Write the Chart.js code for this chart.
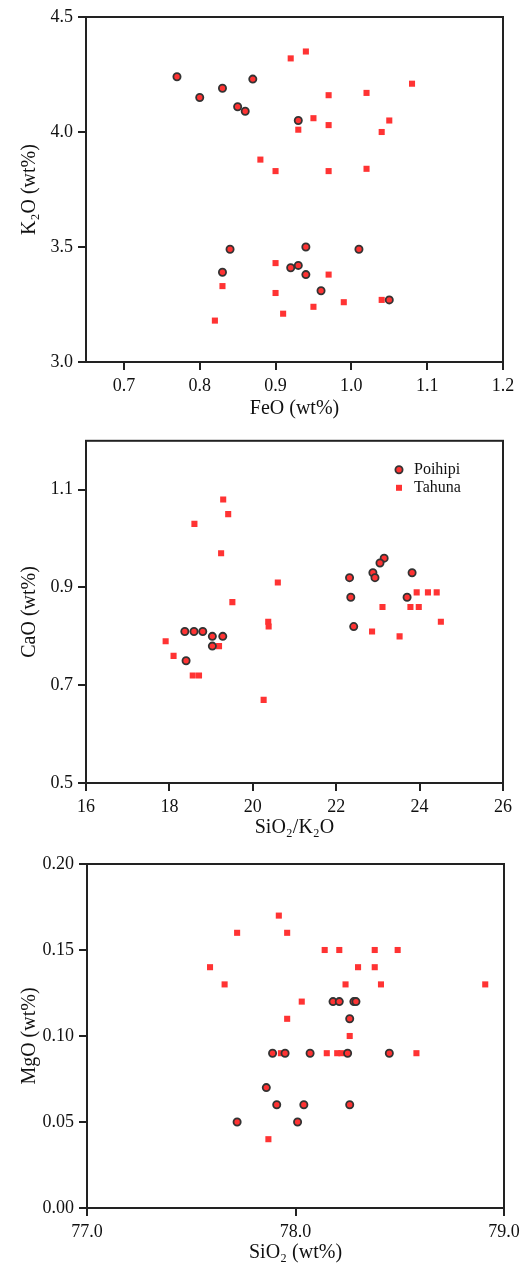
<!DOCTYPE html>
<html>
<head>
<meta charset="utf-8">
<script src="https://cdn.jsdelivr.net/npm/chart.js@4.4.0/dist/chart.umd.min.js"></script>
<style>
  body { margin: 0; background: #fff; }
  canvas { display: block; }
</style>
</head>
<body>
<canvas id="chart1" width="528" height="425"></canvas>
<canvas id="chart2" width="528" height="420"></canvas>
<canvas id="chart3" width="528" height="420"></canvas>
<script>
// panel 1: FeO vs K2O
const feoPoihipi = [0.77, 0.80, 0.83, 0.87, 0.85, 0.86, 0.93, 0.84, 0.94, 1.01, 0.83, 0.92, 0.93, 0.94, 0.96, 1.05];
const k2oPoihipi = [4.24, 4.15, 4.19, 4.23, 4.11, 4.09, 4.05, 3.49, 3.50, 3.49, 3.39, 3.41, 3.42, 3.38, 3.31, 3.27];
const feoTahuna = [0.94, 0.92, 1.08, 0.97, 1.02, 0.95, 0.97, 0.93, 1.05, 1.04, 0.88, 0.90, 0.97, 1.02, 0.90, 0.97, 0.83, 0.90, 0.95, 0.99, 1.04, 0.91, 0.82];
const k2oTahuna = [4.35, 4.32, 4.21, 4.16, 4.17, 4.06, 4.03, 4.01, 4.05, 4.00, 3.88, 3.83, 3.83, 3.84, 3.43, 3.38, 3.33, 3.30, 3.24, 3.26, 3.27, 3.21, 3.18];

// panel 2: SiO2/K2O vs CaO
const ratioPoihipi = [23.15, 23.05, 22.88, 22.93, 22.32, 23.82, 22.35, 23.70, 22.42, 18.37, 18.59, 18.80, 19.03, 19.28, 19.03, 18.40];
const caoPoihipi = [0.96, 0.95, 0.93, 0.92, 0.92, 0.93, 0.88, 0.88, 0.82, 0.81, 0.81, 0.81, 0.80, 0.80, 0.78, 0.75];
const ratioTahuna = [19.29, 19.41, 18.60, 19.24, 20.60, 19.51, 23.93, 24.20, 24.41, 23.11, 23.78, 23.98, 24.51, 20.37, 20.38, 22.86, 23.52, 17.91, 19.19, 18.10, 18.56, 18.71, 20.26];
const caoTahuna = [1.08, 1.05, 1.03, 0.97, 0.91, 0.87, 0.89, 0.89, 0.89, 0.86, 0.86, 0.86, 0.83, 0.83, 0.82, 0.81, 0.80, 0.79, 0.78, 0.76, 0.72, 0.72, 0.67];

// panel 3: SiO2 vs MgO
const sio2Poihipi = [78.18, 78.21, 78.28, 78.29, 78.26, 77.89, 77.95, 78.07, 78.25, 78.45, 77.86, 77.91, 78.04, 78.26, 77.72, 78.01];
const mgoPoihipi = [0.12, 0.12, 0.12, 0.12, 0.11, 0.09, 0.09, 0.09, 0.09, 0.09, 0.07, 0.06, 0.06, 0.06, 0.05, 0.05];
const sio2Tahuna = [77.92, 77.72, 77.96, 78.14, 78.21, 78.38, 78.49, 77.59, 78.30, 78.38, 77.66, 78.24, 78.41, 78.91, 78.03, 77.96, 78.26, 77.93, 78.15, 78.20, 78.22, 78.58, 77.87];
const mgoTahuna = [0.17, 0.16, 0.16, 0.15, 0.15, 0.15, 0.15, 0.14, 0.14, 0.14, 0.13, 0.13, 0.13, 0.13, 0.12, 0.11, 0.10, 0.09, 0.09, 0.09, 0.09, 0.09, 0.04];

// tick labels
const feoTicks = [0.7, 0.8, 0.9, 1.0, 1.1, 1.2];
const k2oTicks = [3.0, 3.5, 4.0, 4.5];
const ratioTicks = [16, 18, 20, 22, 24, 26];
const caoTicks = [0.5, 0.7, 0.9, 1.1];
const sio2Ticks = [77.0, 78.0, 79.0];
const mgoTicks = [0.00, 0.05, 0.10, 0.15, 0.20];

const seriesNames = ['Poihipi', 'Tahuna'];

Chart.defaults.font.family = "'Liberation Serif', 'DejaVu Serif', serif";
Chart.defaults.color = '#111';

const red = '#ff3333';

function toPoints(xs, ys) {
    return xs.map((x, i) => ({ x: x, y: ys[i] }));
}

function axis(title, min, max, ticks, decimals, size, titlePad, isX) {
    return {
        type: 'linear',
        min: min,
        max: max,
        afterBuildTicks: s => { s.ticks = ticks.map(v => ({ value: v })); },
        afterFit: s => { if (isX) s.height = size; else s.width = size; },
        grid: { drawOnChartArea: false, drawTicks: true, tickLength: 8, color: '#222', lineWidth: 2 },
        border: { display: true, color: '#222', width: 2 },
        ticks: { padding: 5, color: '#111', font: { size: 18 }, callback: v => v.toFixed(decimals) },
        title: {
            display: true, text: title, color: '#111', font: { size: 20 },
            padding: isX ? { top: 0, bottom: titlePad } : { top: titlePad, bottom: 0 }
        }
    };
}

// box around the plot
const frame = {
    id: 'frame',
    afterDraw(chart) {
        const { ctx, chartArea: a } = chart;
        ctx.save();
        ctx.strokeStyle = '#222';
        ctx.lineWidth = 2;
        ctx.strokeRect(a.left, a.top, a.right - a.left, a.bottom - a.top);
        ctx.restore();
    }
};

// legend drawn inside the plot (only panel 2)
const insideLegend = {
    id: 'insideLegend',
    afterDraw(chart, args, opts) {
        if (!opts.show) return;
        const { ctx, chartArea: a } = chart;
        ctx.save();
        chart.data.datasets.forEach((ds, i) => {
            const x = a.right - 104;
            const y = a.top + 29 + i * 18;
            ctx.beginPath();
            ctx.fillStyle = ds.backgroundColor;
            if (ds.pointStyle === 'circle') {
                ctx.arc(x, y, ds.pointRadius, 0, Math.PI * 2);
                ctx.fill();
                ctx.lineWidth = ds.borderWidth;
                ctx.strokeStyle = ds.borderColor;
                ctx.stroke();
            } else {
                ctx.fillRect(x - 3, y - 3, 6, 6);
            }
            ctx.fillStyle = '#111';
            ctx.font = "16px 'Liberation Serif', serif";
            ctx.textBaseline = 'middle';
            ctx.fillText(ds.label, x + 15, y);
        });
        ctx.restore();
    }
};

function datasets(xa, ya, xb, yb) {
    return [
        {
            label: seriesNames[0], data: toPoints(xa, ya), pointStyle: 'circle',
            pointRadius: 3.6, pointHoverRadius: 3.6, backgroundColor: red, borderColor: '#333', borderWidth: 1.8
        },
        {
            label: seriesNames[1], data: toPoints(xb, yb), pointStyle: 'rect',
            pointRadius: 4.3, pointHoverRadius: 4.3, backgroundColor: red, borderWidth: 0
        }
    ];
}

function makeChart(id, sets, xScale, yScale, padTop, right, legend) {
    return new Chart(document.getElementById(id), {
        type: 'scatter',
        data: { datasets: sets },
        options: {
            responsive: false,
            animation: false,
            layout: { padding: { top: padTop, right: right, left: 0, bottom: 0 } },
            scales: { x: xScale, y: yScale },
            plugins: {
                legend: { display: false },
                tooltip: { enabled: false },
                insideLegend: { show: legend }
            }
        },
        plugins: [frame, insideLegend]
    });
}

makeChart('chart1', datasets(feoPoihipi, k2oPoihipi, feoTahuna, k2oTahuna),
    axis('FeO (wt%)', 0.65, 1.2, feoTicks, 1, 63, 4, true),
    axis('K\u2082O (wt%)', 3.0, 4.5, k2oTicks, 1, 86, 18, false),
    17, 25, false);

makeChart('chart2', datasets(ratioPoihipi, caoPoihipi, ratioTahuna, caoTahuna),
    axis('SiO\u2082/K\u2082O', 16, 26, ratioTicks, 0, 62, 5, true),
    axis('CaO (wt%)', 0.5, 1.2, caoTicks, 1, 86, 18, false),
    13, 25, true);

makeChart('chart3', datasets(sio2Poihipi, mgoPoihipi, sio2Tahuna, mgoTahuna),
    axis('SiO\u2082 (wt%)', 77.0, 79.0, sio2Ticks, 1, 57, 0, true),
    axis('MgO (wt%)', 0.0, 0.2, mgoTicks, 2, 87, 18, false),
    19, 24, false);
</script>
</body>
</html>
